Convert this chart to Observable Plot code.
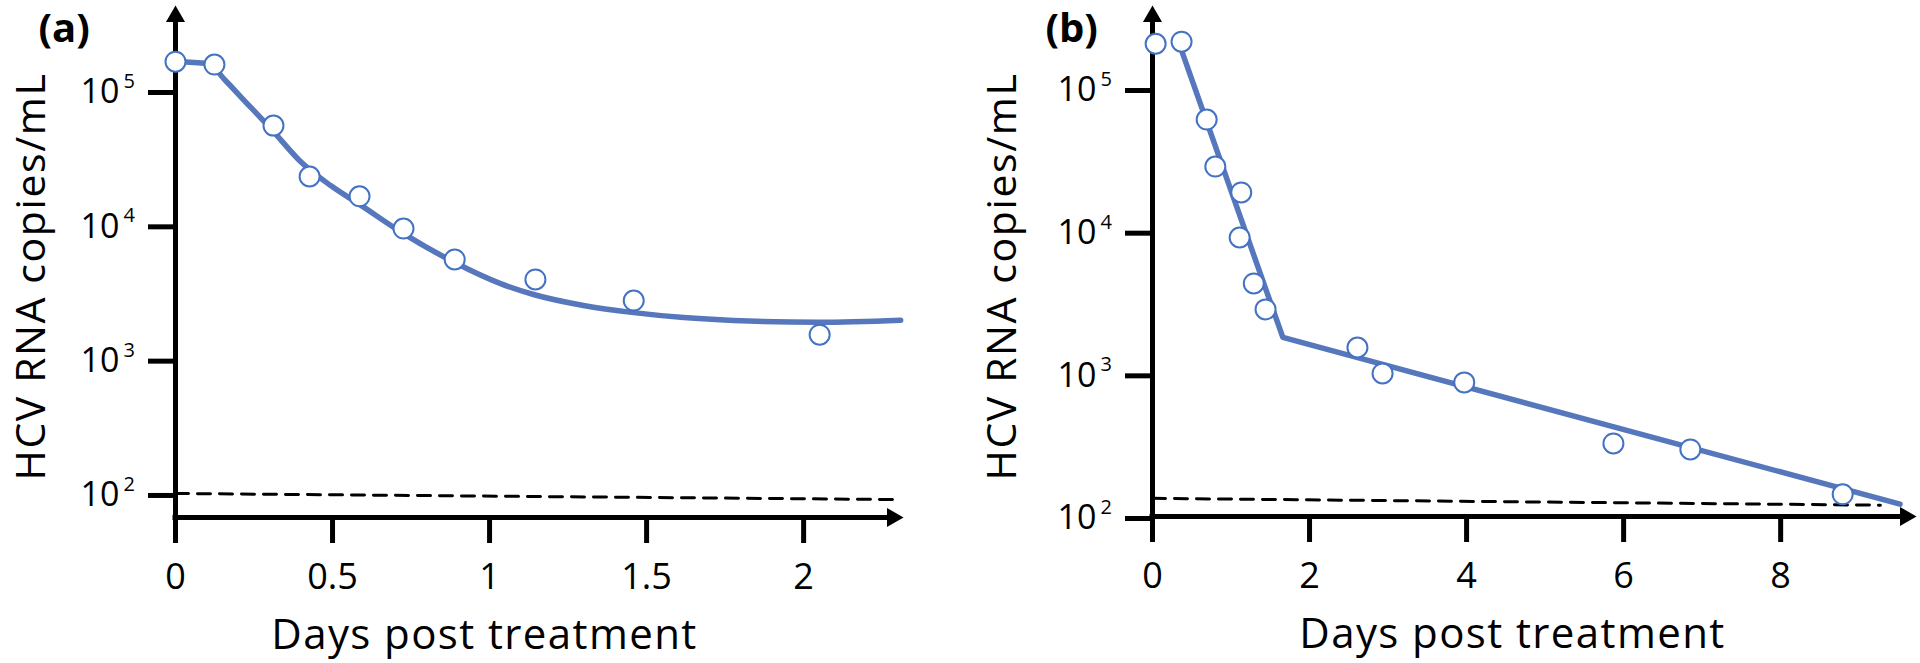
<!DOCTYPE html>
<html>
<head>
<meta charset="utf-8">
<script src="https://cdn.jsdelivr.net/npm/d3@7"></script>
<script src="https://cdn.jsdelivr.net/npm/@observablehq/plot@0.6"></script>
<style>
  html, body { margin: 0; padding: 0; background: #fff; }
  #row { display: flex; flex-direction: row; width: 1920px; height: 663px; }
  #row svg { display: block; }
  g[aria-description="x-title"] text { letter-spacing: 1.4px; }
  g[aria-description="y-title"] text { letter-spacing: 1.6px; }
</style>
</head>
<body>
<div id="row"></div>
<script>
// ---- Panel (a) data ----
const daysA = [0, 0.124, 0.312, 0.427, 0.586, 0.726, 0.889, 1.146, 1.459, 2.051];
const rnaA  = [164000, 156000, 54800, 22900, 16300, 9380, 5520, 3920, 2730, 1520];
const fitDaysA = [0, 0.102, 0.159, 0.207, 0.312, 0.398, 0.494, 0.586, 0.726, 0.889, 1.035, 1.14, 1.299, 1.459, 1.618, 1.777, 2.051, 2.309];
const fitRnaA  = [164000, 159000, 118700, 90200, 49500, 29600, 19600, 14200, 8610, 5240, 3650, 3030, 2510, 2220, 2040, 1940, 1880, 1950];
const limitDaysA = [0, 2.31];
const limitRnaA  = [100, 90];
const xTicksA = [0, 0.5, 1, 1.5, 2];

// ---- Panel (b) data ----
const daysB = [0.04, 0.37, 0.69, 0.80, 1.13, 1.11, 1.29, 1.44, 2.61, 2.93, 3.97, 5.87, 6.85, 8.79];
const rnaB  = [206000, 213000, 60600, 28400, 18700, 9030, 4300, 2830, 1530, 1007, 871, 325, 295, 143];
const fitDaysB = [0.37, 1.66, 9.52];
const fitRnaB  = [185000, 1800, 122];
const limitDaysB = [0, 9.27];
const limitRnaB  = [134, 120];
const xTicksB = [0, 2, 4, 6, 8];

const yTicks = [1e2, 1e3, 1e4, 1e5];
const yTitle = "HCV RNA copies/mL";
const xTitle = "Days post treatment";

const lineColor = "#5677bb";
const dotColor = "#4472c4";

const zip = (xs, ys) => xs.map((x, i) => ({x, y: ys[i]}));

function panel(cfg) {
  const pts = zip(cfg.days, cfg.rna);
  const fit = zip(cfg.fitDays, cfg.fitRna);
  const lim = zip(cfg.limDays, cfg.limRna);
  return Plot.plot({
    width: 960,
    height: 663,
    marginLeft: cfg.ml,
    marginRight: cfg.mr,
    marginTop: 5,
    marginBottom: cfg.mb,
    style: {fontFamily: "'Open Sans', sans-serif", color: "black", background: "white", overflow: "visible"},
    x: {domain: cfg.xDomain},
    y: {type: "log", domain: cfg.yDomain},
    marks: [
      // dashed detection limit
      Plot.line(lim, {x: "x", y: "y", stroke: "black", strokeWidth: 3, strokeDasharray: "13,9"}),
      // axes lines
      Plot.ruleX([0], {stroke: "black", strokeWidth: 5, insetTop: 12, insetBottom: cfg.yExt}),
      Plot.ruleY([cfg.yDomain[0]], {stroke: "black", strokeWidth: 5, insetRight: 12, insetLeft: -2.5}),
      Plot.dot([0], {x: () => 0, y: () => cfg.yDomain[1], symbol: "triangle", r: 7.1, fill: "black", stroke: null, dy: 11}),
      Plot.dot([0], {x: () => cfg.xDomain[1], y: () => cfg.yDomain[0], symbol: "triangle", r: 7.1, fill: "black", stroke: null, rotate: 90, dx: -11}),
      // ticks and tick labels
      Plot.axisX({ticks: cfg.xTicks, tickSize: 26, tickPadding: 20, strokeWidth: 5, fontSize: 36,
        tickFormat: d => String(d), label: null}),
      Plot.axisY({ticks: yTicks, tickSize: 27, tickPadding: 29, strokeWidth: 5, fontSize: 34,
        tickFormat: () => "10", label: null, dy: 2}),
      Plot.text(yTicks, {x: () => 0, y: d => d, text: d => String(Math.round(Math.log10(d))),
        textAnchor: "start", dx: -52, dy: -9, fontSize: 20}),
      // fitted model
      Plot.line(fit, {x: "x", y: "y", stroke: lineColor, strokeWidth: 5.5, curve: cfg.curve}),
      // observations
      Plot.dot(pts, {x: "x", y: "y", r: 10, fill: "white", stroke: dotColor, strokeWidth: 2}),
      // titles
      Plot.text([xTitle], {text: d => d, frameAnchor: "bottom", textAnchor: "middle", lineAnchor: "bottom",
        dx: cfg.xtDx, dy: 131, fontSize: 42, ariaDescription: "x-title"}),
      Plot.text([yTitle], {text: d => d, frameAnchor: "left", textAnchor: "middle", rotate: -90, lineAnchor: "bottom",
        dx: cfg.ytDx, dy: cfg.ytDy, fontSize: 41, ariaDescription: "y-title"}),
      Plot.text([cfg.tag], {text: d => d, frameAnchor: "top-left", textAnchor: "start", lineAnchor: "bottom",
        dx: cfg.tagDx, dy: 36, fontSize: 40, fontWeight: "bold"})
    ]
  });
}

const row = document.getElementById("row");
row.append(panel({
  days: daysA, rna: rnaA, fitDays: fitDaysA, fitRna: fitRnaA, limDays: limitDaysA, limRna: limitRnaA,
  xTicks: xTicksA, ml: 175, mr: 57, mb: 146,
  xDomain: [0, 2.318], yDomain: [Math.pow(10, 1.821), Math.pow(10, 5.633)],
  yExt: -23, curve: "monotone-x", xtDx: -55, ytDx: -131, ytDy: 15, tag: "(a)", tagDx: -137
}));
row.append(panel({
  days: daysB, rna: rnaB, fitDays: fitDaysB, fitRna: fitRnaB, limDays: limitDaysB, limRna: limitRnaB,
  xTicks: xTicksB, ml: 192, mr: 4, mb: 147,
  xDomain: [0, 9.73], yDomain: [Math.pow(10, 2.0), Math.pow(10, 5.582)],
  yExt: -25, curve: "linear", xtDx: -22, ytDx: -137, ytDy: 15.5, tag: "(b)", tagDx: -107
}));
</script>
</body>
</html>
